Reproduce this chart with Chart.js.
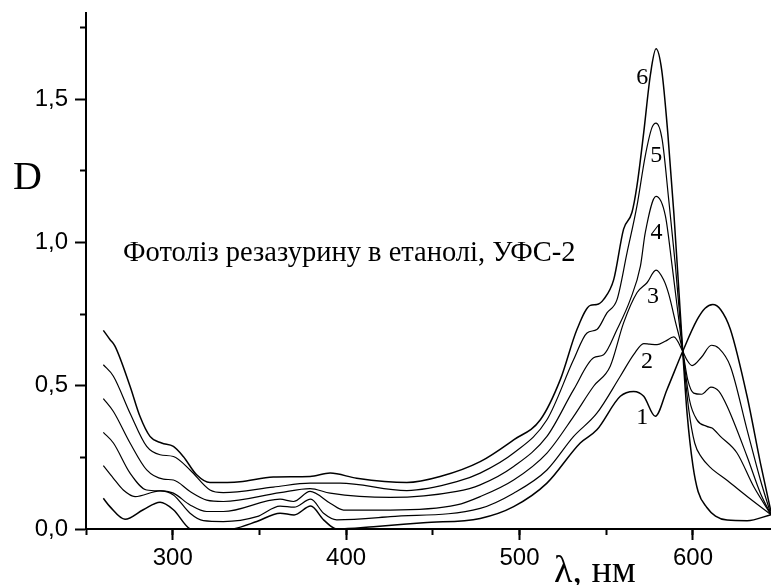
<!DOCTYPE html>
<html>
<head>
<meta charset="utf-8">
<script src="https://cdn.jsdelivr.net/npm/chart.js@4.4.1/dist/chart.umd.min.js"></script>
<style>
  html, body { margin: 0; padding: 0; background: #fff; }
  #wrap { width: 771px; height: 585px; }
</style>
</head>
<body>
<div id="wrap"><canvas id="spectra" width="771" height="585"></canvas></div>
<script>
// Спектри поглинання (D) від довжини хвилі, криві 1..6
var wl1 = [260, 263.8, 272.5, 283, 292.7, 300.4, 310, 320, 335, 348.5, 361.9, 370, 379.6, 387, 394.6, 415.8, 444.6, 477.3, 496.6, 515.8, 535, 544.6, 558.1, 565.8, 571.6, 578.3, 585, 594.1, 602.4, 607, 611.4, 616, 621.6, 631.2, 638.9, 645];
var d1  = [0.107, 0.078, 0.034, 0.067, 0.093, 0.067, 0.0, -0.01, 0.0, 0.026, 0.055, 0.049, 0.080, 0.032, 0.0, 0.008, 0.022, 0.037, 0.078, 0.16, 0.30, 0.346, 0.463, 0.48, 0.463, 0.393, 0.486, 0.62, 0.73, 0.77, 0.783, 0.765, 0.696, 0.463, 0.23, 0.06];

var wl2 = [260, 265.8, 271.5, 278.3, 292.7, 300.4, 310, 317.7, 329.2, 348.5, 361.9, 370, 379.6, 387, 394.6, 425.4, 477.3, 496.6, 515.8, 531.2, 544.6, 558.1, 566, 571.6, 575, 579.3, 584, 588.9, 594.1, 596.5, 599.5, 605, 610.6, 615, 621.6, 631.2, 638.9, 645];
var d2  = [0.221, 0.177, 0.136, 0.113, 0.133, 0.119, 0.055, 0.029, 0.026, 0.043, 0.080, 0.076, 0.104, 0.055, 0.032, 0.043, 0.072, 0.125, 0.206, 0.323, 0.404, 0.533, 0.61, 0.647, 0.645, 0.643, 0.655, 0.67, 0.62, 0.59, 0.57, 0.6, 0.641, 0.63, 0.567, 0.346, 0.171, 0.05];

var wl3 = [260, 265.8, 275.4, 285, 293.6, 300.4, 310, 319.6, 329.2, 361.9, 369.6, 379.2, 390.8, 398.5, 425.4, 463.8, 477.3, 496.6, 515.8, 531.2, 542.7, 552.3, 560, 567.7, 573.5, 578.7, 583, 586, 590, 594.1, 597, 600.4, 605, 610.4, 615, 619.7, 631.2, 638.9, 645];
var d3  = [0.337, 0.30, 0.195, 0.136, 0.133, 0.125, 0.084, 0.061, 0.061, 0.104, 0.096, 0.131, 0.090, 0.066, 0.066, 0.084, 0.113, 0.171, 0.265, 0.393, 0.498, 0.568, 0.719, 0.824, 0.859, 0.903, 0.87, 0.82, 0.72, 0.62, 0.52, 0.474, 0.47, 0.495, 0.48, 0.428, 0.253, 0.125, 0.05];

var wl4 = [260, 265.8, 275.4, 285, 294.6, 300.4, 310, 319.6, 329.2, 361.9, 379.2, 390.8, 425.4, 463.8, 477.3, 496.6, 515.8, 531.2, 542.7, 548.5, 556.2, 563.9, 569.7, 572.5, 578.7, 584.1, 588, 594.1, 598, 602.4, 608, 611, 615.8, 625.4, 635, 645];
var d4  = [0.455, 0.410, 0.30, 0.206, 0.174, 0.171, 0.131, 0.101, 0.096, 0.127, 0.141, 0.125, 0.110, 0.131, 0.154, 0.218, 0.323, 0.486, 0.597, 0.608, 0.696, 0.801, 0.917, 1.034, 1.16, 1.092, 0.917, 0.62, 0.45, 0.38, 0.358, 0.352, 0.323, 0.265, 0.148, 0.05];

var wl5 = [260, 265.8, 275.4, 285, 292.7, 300.4, 310, 321.5, 329.2, 358, 379.2, 396.5, 435, 463.8, 477.3, 496.6, 515.8, 531.2, 538.9, 544.6, 550.4, 556.2, 562, 567.7, 572.5, 576.4, 578.7, 582.2, 586, 589.9, 594.1, 597.5, 601, 605, 610, 620, 632, 645];
var d5  = [0.573, 0.533, 0.404, 0.288, 0.259, 0.253, 0.206, 0.136, 0.127, 0.146, 0.160, 0.160, 0.134, 0.165, 0.195, 0.265, 0.381, 0.591, 0.684, 0.696, 0.754, 0.80, 0.964, 1.127, 1.302, 1.401, 1.416, 1.36, 1.15, 0.917, 0.62, 0.42, 0.30, 0.25, 0.215, 0.168, 0.11, 0.05];

var wl6 = [260, 263.8, 266.7, 275.4, 281.1, 286.9, 293.6, 300.4, 306.1, 313.8, 321.5, 338.8, 358, 379.2, 390.8, 406.1, 435, 454.2, 477.3, 496.6, 512, 523.5, 533.1, 540.8, 544.6, 548.5, 554.3, 560, 564.8, 567.7, 571.6, 575.4, 578.7, 582, 585.5, 589, 592, 594.1, 596.6, 600, 603, 608, 613, 619.7, 631.2, 645];
var d6  = [0.693, 0.661, 0.638, 0.498, 0.393, 0.323, 0.30, 0.288, 0.253, 0.189, 0.162, 0.165, 0.181, 0.183, 0.195, 0.177, 0.162, 0.183, 0.235, 0.311, 0.381, 0.521, 0.696, 0.78, 0.783, 0.801, 0.87, 1.046, 1.104, 1.197, 1.383, 1.582, 1.675, 1.60, 1.38, 1.10, 0.82, 0.62, 0.404, 0.22, 0.13, 0.075, 0.045, 0.031, 0.029, 0.05];

// номери кривих і де вони стоять (в одиницях осей)
var curveNames = ['1', '2', '3', '4', '5', '6'];
var nameX = [570.7, 573.5, 577, 579, 578.9, 570.7];
var nameY = [0.387, 0.585, 0.812, 1.035, 1.302, 1.576];

// поділки осей
var xMajor = [300, 400, 500, 600];
var xMinor = [250, 300, 350, 400, 450, 500, 550, 600];
var yMajor = [0, 0.5, 1.0, 1.5];
var yMinor = [0.25, 0.75, 1.25, 1.75];

var titleText = 'Фотоліз резазурину в етанолі, УФС-2';

var SANS = '"Liberation Sans", Arial, sans-serif';
var SERIF = '"Liberation Serif", "Times New Roman", serif';

function pts(xs, ys) {
    return xs.map(function (x, i) { return { x: x, y: ys[i] }; });
}

function setTicks(values) {
    return function (scale) {
        scale.ticks = values.map(function (v) { return { value: v }; });
    };
}

var allWl = [wl1, wl2, wl3, wl4, wl5, wl6];
var allD = [d1, d2, d3, d4, d5, d6];

var datasets = allWl.map(function (xs, i) {
    return {
        label: curveNames[i],
        data: pts(xs, allD[i]),
        borderColor: '#000',
        borderWidth: (i === 0 || i === 5) ? 1.5 : 1.2,
        pointRadius: 0,
        fill: false,
        cubicInterpolationMode: 'monotone',
        xAxisID: 'x',
        yAxisID: 'y'
    };
});

// підписи на полі графіка
var textPlugin = {
    id: 'textPlugin',
    afterDraw: function (chart) {
        var ctx = chart.ctx;
        var xs = chart.scales.x, ys = chart.scales.y;
        ctx.save();
        ctx.fillStyle = '#000';

        ctx.font = '28.5px ' + SERIF;
        ctx.textAlign = 'left';
        ctx.textBaseline = 'alphabetic';
        ctx.fillText(titleText, 123, 261);

        ctx.font = '24px ' + SERIF;
        ctx.textAlign = 'center';
        ctx.textBaseline = 'middle';
        for (var i = 0; i < curveNames.length; i++) {
            ctx.fillText(curveNames[i], xs.getPixelForValue(nameX[i]), ys.getPixelForValue(nameY[i]));
        }

        ctx.textAlign = 'left';
        ctx.textBaseline = 'alphabetic';
        ctx.font = '40px ' + SERIF;
        ctx.fillText('D', 13, 189);

        ctx.font = '38px ' + SERIF;
        ctx.fillText('λ, нм', 554, 582);
        ctx.restore();
    }
};

var axisGrid = { drawOnChartArea: false, drawTicks: true, tickLength: 11, tickWidth: 2, tickColor: '#000' };
var minorGrid = { drawOnChartArea: false, drawTicks: true, tickLength: 6, tickWidth: 2, tickColor: '#000' };

var ctx = document.getElementById('spectra').getContext('2d');
var chart = new Chart(ctx, {
    type: 'line',
    data: { datasets: datasets },
    options: {
        responsive: false,
        animation: false,
        layout: { padding: { top: 13, right: 0, bottom: 0, left: 0 } },
        plugins: {
            legend: { display: false },
            tooltip: { enabled: false }
        },
        scales: {
            x: {
                type: 'linear',
                position: 'bottom',
                min: 250,
                max: 645,
                weight: 1,
                afterBuildTicks: setTicks(xMajor),
                afterFit: function (s) { s.height = 56; s.paddingLeft = 0; s.paddingRight = 0; },
                border: { display: true, color: '#000', width: 2 },
                grid: axisGrid,
                ticks: {
                    color: '#000',
                    padding: 4,
                    font: { family: SANS, size: 24 },
                    callback: function (v) { return String(v); }
                }
            },
            xMinor: {
                type: 'linear',
                position: 'bottom',
                min: 250,
                max: 645,
                weight: 0,
                afterBuildTicks: setTicks(xMinor),
                afterFit: function (s) { s.height = 0; },
                border: { display: false },
                grid: minorGrid,
                ticks: { display: false }
            },
            y: {
                type: 'linear',
                position: 'left',
                min: 0,
                max: 1.8,
                weight: 1,
                afterBuildTicks: setTicks(yMajor),
                afterFit: function (s) { s.width = 86; s.paddingTop = 0; s.paddingBottom = 0; },
                border: { display: true, color: '#000', width: 2 },
                grid: axisGrid,
                ticks: {
                    color: '#000',
                    padding: 7,
                    font: { family: SANS, size: 24, lineHeight: 1 },
                    callback: function (v) { return v.toFixed(1).replace('.', ','); }
                }
            },
            yMinor: {
                type: 'linear',
                position: 'left',
                min: 0,
                max: 1.8,
                weight: 0,
                afterBuildTicks: setTicks(yMinor),
                afterFit: function (s) { s.width = 0; s.paddingTop = 0; s.paddingBottom = 0; },
                border: { display: false },
                grid: minorGrid,
                ticks: { display: false }
            }
        }
    },
    plugins: [textPlugin]
});
</script>
</body>
</html>
